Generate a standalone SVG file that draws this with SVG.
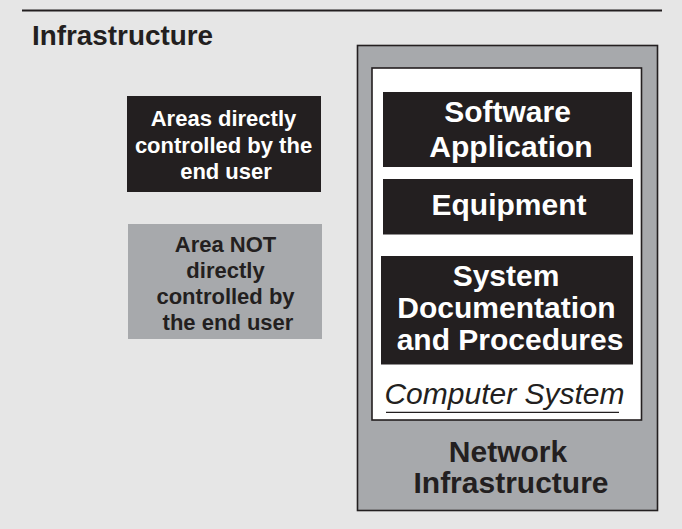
<svg xmlns="http://www.w3.org/2000/svg" width="682" height="529" viewBox="0 0 682 529">
  <style>
    .t { font-family: "Liberation Sans", Arial, Helvetica, sans-serif; text-anchor: middle; }
    .b { font-weight: bold; }
    .white { fill: #ffffff; }
    .dark { fill: #231f20; }
    .blk { fill: #231f20; }
    .gry { fill: #a7a9ac; }
    .s22 { font-size: 22px; }
    .s30 { font-size: 30px; }
  </style>

  <!-- page background and header rule -->
  <rect x="0" y="0" width="682" height="529" fill="#e6e6e6"/>
  <line x1="22" y1="10.5" x2="662" y2="10.5" stroke="#231f20" stroke-width="1.8"/>
  <text class="t b dark" x="32" y="45" font-size="27" style="text-anchor:start" textLength="181" lengthAdjust="spacingAndGlyphs">Infrastructure</text>

  <!-- legend: black swatch -->
  <g id="legend-controlled">
    <rect class="blk" x="127" y="96" width="194" height="96"/>
    <text class="t b white s22" x="223.5" y="126">Areas directly</text>
    <text class="t b white s22" x="223.5" y="153">controlled by the</text>
    <text class="t b white s22" x="226" y="178.5">end user</text>
  </g>

  <!-- legend: grey swatch -->
  <g id="legend-not-controlled">
    <rect class="gry" x="128" y="224" width="194" height="115"/>
    <text class="t b dark s22" x="225.5" y="252">Area NOT</text>
    <text class="t b dark s22" x="225.5" y="277.5">directly</text>
    <text class="t b dark s22" x="225.5" y="304">controlled by</text>
    <text class="t b dark s22" x="228" y="329.5">the end user</text>
  </g>

  <!-- network infrastructure (outer grey frame) -->
  <g id="network-infrastructure">
    <rect class="gry" x="357.5" y="45.5" width="300" height="465" stroke="#231f20" stroke-width="1.6"/>
    <text class="t b dark s30" x="508" y="462">Network</text>
    <text class="t b dark s30" x="511" y="493">Infrastructure</text>
  </g>

  <!-- computer system (white frame) -->
  <g id="computer-system">
    <rect x="372" y="68" width="269.5" height="352" fill="#ffffff" stroke="#231f20" stroke-width="1.6"/>
    <text class="t dark s30" x="504.5" y="403.5" font-style="italic">Computer System</text>
    <line x1="386" y1="412.3" x2="619" y2="412.3" stroke="#231f20" stroke-width="1.2"/>
  </g>

  <g id="software-application">
    <rect class="blk" x="383" y="92" width="249" height="75"/>
    <text class="t b white s30" x="507.5" y="122">Software</text>
    <text class="t b white s30" x="511" y="157">Application</text>
  </g>

  <g id="equipment">
    <rect class="blk" x="383" y="179" width="250" height="55.5"/>
    <text class="t b white s30" x="509" y="215">Equipment</text>
  </g>

  <g id="system-documentation">
    <rect class="blk" x="381" y="256" width="252" height="108.5"/>
    <text class="t b white s30" x="506" y="285.5">System</text>
    <text class="t b white s30" x="506.5" y="318">Documentation</text>
    <text class="t b white s30" x="510" y="350">and Procedures</text>
  </g>

  <!-- no connectors in this figure -->
  <g id="connectors"/>
</svg>
